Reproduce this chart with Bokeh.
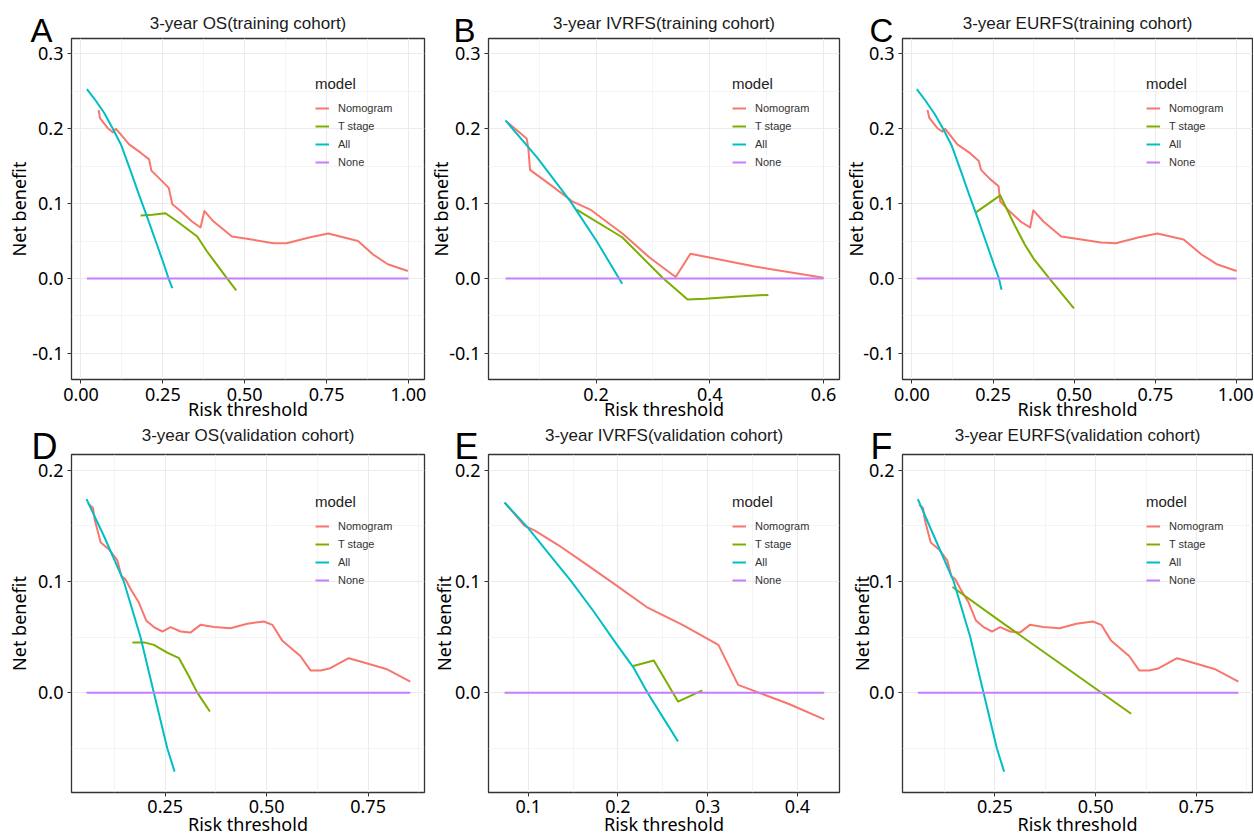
from bokeh.plotting import figure
from bokeh.models import (FixedTicker, Legend, LegendItem, Title, Range1d,
                          NumeralTickFormatter)
from bokeh.layouts import gridplot
from bokeh.embed import file_html
from bokeh.resources import INLINE

MODELS = ["Nomogram", "T stage", "All", "None"]
COLORS = ["#F8766D", "#7CAE00", "#00BFC4", "#C77CFF"]

# ---------------- Panel A: 3-year OS (training) ----------------
A_nom_x = [0.054, 0.058, 0.081, 0.098, 0.106, 0.124, 0.147, 0.182, 0.208, 0.215, 0.243, 0.268, 0.279,
           0.304, 0.339, 0.365, 0.377, 0.405, 0.461, 0.507, 0.588, 0.628, 0.700, 0.755, 0.846, 0.892,
           0.937, 0.998]
A_nom_y = [0.225, 0.214, 0.201, 0.195, 0.200, 0.191, 0.179, 0.168, 0.159, 0.144, 0.132, 0.121, 0.099,
           0.090, 0.076, 0.068, 0.090, 0.076, 0.056, 0.053, 0.047, 0.047, 0.055, 0.060, 0.050, 0.032,
           0.019, 0.010]
A_tst_x = [0.182, 0.218, 0.258, 0.294, 0.355, 0.385, 0.446, 0.474]
A_tst_y = [0.084, 0.085, 0.087, 0.076, 0.056, 0.036, 0.000, -0.016]
A_all_x = [0.018, 0.041, 0.071, 0.096, 0.122, 0.152, 0.177, 0.203, 0.228, 0.253, 0.268, 0.279]
A_all_y = [0.253, 0.240, 0.221, 0.201, 0.179, 0.143, 0.112, 0.081, 0.050, 0.019, -0.001, -0.013]
A_none_x = [0.018, 1.0]
A_none_y = [0.0, 0.0]

# ---------------- Panel B: 3-year IVRFS (training) ----------------
B_nom_x = [0.042, 0.078, 0.081, 0.084, 0.120, 0.158, 0.190, 0.248, 0.294, 0.340, 0.366, 0.479, 0.600]
B_nom_y = [0.210, 0.187, 0.174, 0.145, 0.125, 0.103, 0.092, 0.059, 0.028, 0.002, 0.033, 0.016, 0.001]
B_tst_x = [0.166, 0.246, 0.317, 0.361, 0.392, 0.450, 0.503]
B_tst_y = [0.092, 0.055, 0.001, -0.028, -0.027, -0.024, -0.022]
B_all_x = [0.041, 0.097, 0.155, 0.201, 0.246]
B_all_y = [0.211, 0.161, 0.103, 0.050, -0.007]
B_none_x = [0.041, 0.600]
B_none_y = [0.0, 0.0]

# ---------------- Panel C: 3-year EURFS (training) ----------------
C_nom_x = [0.048, 0.054, 0.078, 0.094, 0.102, 0.120, 0.140, 0.180, 0.206, 0.213, 0.240, 0.267, 0.272,
           0.300, 0.335, 0.364, 0.374, 0.405, 0.460, 0.507, 0.582, 0.628, 0.700, 0.756, 0.837, 0.892,
           0.939, 1.000]
C_nom_y = [0.225, 0.214, 0.201, 0.196, 0.200, 0.190, 0.179, 0.167, 0.157, 0.145, 0.133, 0.123, 0.103,
           0.090, 0.076, 0.068, 0.091, 0.076, 0.056, 0.053, 0.048, 0.047, 0.055, 0.060, 0.052, 0.032,
           0.019, 0.010]
C_tst_x = [0.196, 0.272, 0.313, 0.348, 0.377, 0.425, 0.499]
C_tst_y = [0.088, 0.111, 0.074, 0.045, 0.025, -0.001, -0.040]
C_all_x = [0.015, 0.041, 0.071, 0.096, 0.122, 0.152, 0.177, 0.203, 0.228, 0.253, 0.268, 0.276]
C_all_y = [0.253, 0.238, 0.219, 0.200, 0.178, 0.142, 0.111, 0.080, 0.049, 0.018, 0.000, -0.015]
C_none_x = [0.015, 1.0]
C_none_y = [0.0, 0.0]

# ---------------- Panel D: 3-year OS (validation) ----------------
D_nom_x = [0.060, 0.072, 0.076, 0.091, 0.111, 0.132, 0.142, 0.152, 0.165, 0.185, 0.203, 0.222, 0.243,
           0.263, 0.288, 0.312, 0.337, 0.370, 0.411, 0.452, 0.493, 0.514, 0.538, 0.583, 0.608, 0.633,
           0.657, 0.702, 0.731, 0.797, 0.854]
D_nom_y = [0.170, 0.166, 0.156, 0.135, 0.129, 0.119, 0.105, 0.102, 0.093, 0.081, 0.065, 0.059, 0.055,
           0.059, 0.055, 0.054, 0.061, 0.059, 0.058, 0.062, 0.064, 0.061, 0.047, 0.033, 0.020, 0.020,
           0.022, 0.031, 0.028, 0.021, 0.010]
D_tst_x = [0.169, 0.200, 0.222, 0.255, 0.284, 0.308, 0.329, 0.360]
D_tst_y = [0.045, 0.045, 0.043, 0.036, 0.031, 0.015, 0.000, -0.017]
D_all_x = [0.056, 0.100, 0.148, 0.189, 0.222, 0.255, 0.273]
D_all_y = [0.174, 0.140, 0.100, 0.050, 0.000, -0.050, -0.071]
D_none_x = [0.056, 0.854]
D_none_y = [0.0, 0.0]

# ---------------- Panel E: 3-year IVRFS (validation) ----------------
E_nom_x = [0.0736, 0.096, 0.107, 0.133, 0.162, 0.199, 0.232, 0.272, 0.312, 0.334, 0.357, 0.390, 0.430]
E_nom_y = [0.171, 0.150, 0.146, 0.133, 0.117, 0.096, 0.077, 0.061, 0.043, 0.007, 0.000, -0.010, -0.024]
E_tst_x = [0.217, 0.240, 0.267, 0.294]
E_tst_y = [0.024, 0.029, -0.008, 0.002]
E_all_x = [0.0736, 0.100, 0.124, 0.148, 0.173, 0.199, 0.217, 0.233, 0.250, 0.267]
E_all_y = [0.171, 0.148, 0.124, 0.100, 0.073, 0.043, 0.023, 0.000, -0.022, -0.044]
E_none_x = [0.0736, 0.430]
E_none_y = [0.0, 0.0]

# ---------------- Panel F: 3-year EURFS (validation) ----------------
F_nom_x = [0.062, 0.072, 0.076, 0.091, 0.111, 0.132, 0.142, 0.152, 0.165, 0.185, 0.203, 0.222, 0.243,
           0.263, 0.288, 0.312, 0.337, 0.370, 0.411, 0.452, 0.493, 0.514, 0.538, 0.583, 0.608, 0.633,
           0.657, 0.702, 0.731, 0.797, 0.854]
F_nom_y = [0.169, 0.166, 0.156, 0.135, 0.129, 0.119, 0.105, 0.102, 0.093, 0.081, 0.065, 0.059, 0.055,
           0.059, 0.055, 0.054, 0.061, 0.059, 0.058, 0.062, 0.064, 0.061, 0.047, 0.033, 0.020, 0.020,
           0.022, 0.031, 0.028, 0.021, 0.010]
F_tst_x = [0.145, 0.276, 0.440, 0.588]
F_tst_y = [0.095, 0.061, 0.019, -0.019]
F_all_x = [0.059, 0.100, 0.148, 0.189, 0.222, 0.255, 0.273]
F_all_y = [0.174, 0.140, 0.100, 0.050, 0.000, -0.050, -0.071]
F_none_x = [0.059, 0.854]
F_none_y = [0.0, 0.0]

TITLES = ["3-year OS(training cohort)", "3-year IVRFS(training cohort)", "3-year EURFS(training cohort)",
          "3-year OS(validation cohort)", "3-year IVRFS(validation cohort)", "3-year EURFS(validation cohort)"]
LETTERS = ["A", "B", "C", "D", "E", "F"]

TOP_Y_TICKS = [-0.1, 0.0, 0.1, 0.2, 0.3]
TOP_Y_MINOR = [-0.05, 0.05, 0.15, 0.25]
BOT_Y_TICKS = [0.0, 0.1, 0.2]
BOT_Y_MINOR = [-0.05, 0.05, 0.15]
X_TICKS_1 = [0.0, 0.25, 0.5, 0.75, 1.0]
X_MINOR_1 = [0.125, 0.375, 0.625, 0.875]
X_TICKS_B = [0.2, 0.4, 0.6]
X_MINOR_B = [0.1, 0.3, 0.5]
X_TICKS_E = [0.1, 0.2, 0.3, 0.4]
X_MINOR_E = [0.15, 0.25, 0.35]

TICK_FONT = "Noto Sans"
TITLE_FONT = "Liberation Sans"


def make_panel(idx, series, xr, yr, xt, xm, xfmt, yt, ym, bl, bt, bb, fw, fh, br,
               ylab_standoff, xlab_standoff, xaxlab_standoff, letter_dx, letter_size,
               letter_standoff, title_standoff, legend_top):
    p = figure(width=bl + fw + br, height=bt + fh + bb, output_backend="svg",
               toolbar_location=None, x_range=Range1d(*xr), y_range=Range1d(*yr),
               title_location=None,
               min_border_left=bl, min_border_right=br, min_border_top=bt, min_border_bottom=bb)
    p.background_fill_color = "white"
    p.border_fill_color = "white"
    p.outline_line_color = "#333333"
    p.outline_line_width = 1.3

    # panel letter (closest to the frame) and the panel title above it
    letter = Title(text=LETTERS[idx], align="left", offset=letter_dx, vertical_align="top",
                   standoff=letter_standoff, text_font=TITLE_FONT, text_font_size=letter_size,
                   text_font_style="normal", text_color="black")
    p.add_layout(letter, "above")
    main = Title(text=TITLES[idx], align="center", vertical_align="bottom", standoff=title_standoff,
                 text_font=TITLE_FONT, text_font_size="17px", text_font_style="normal",
                 text_color="#1a1a1a")
    p.add_layout(main, "above")

    p.xaxis.ticker = FixedTicker(ticks=xt, minor_ticks=xm)
    p.yaxis.ticker = FixedTicker(ticks=yt, minor_ticks=ym)
    p.xaxis.formatter = NumeralTickFormatter(format=xfmt)
    p.yaxis.formatter = NumeralTickFormatter(format="0.0")
    for ax in (p.xaxis, p.yaxis):
        ax.axis_line_color = None
        ax.major_tick_line_color = "#333333"
        ax.major_tick_out = 4
        ax.major_tick_in = 0
        ax.minor_tick_line_color = None
        ax.major_label_text_font = TICK_FONT
        ax.major_label_text_font_size = "18px"
        ax.major_label_text_color = "black"
        ax.axis_label_text_font = TICK_FONT
        ax.axis_label_text_font_size = "18px"
        ax.axis_label_text_font_style = "normal"
        ax.axis_label_text_color = "black"
    p.xaxis.axis_label = "Risk threshold"
    p.yaxis.axis_label = "Net benefit"
    p.xaxis.major_label_standoff = xlab_standoff
    p.xaxis.axis_label_standoff = xaxlab_standoff
    p.yaxis.major_label_standoff = 4
    p.yaxis.axis_label_standoff = ylab_standoff

    for g in (p.xgrid, p.ygrid):
        g.grid_line_color = "#EBEBEB"
        g.grid_line_width = 1.1
        g.minor_grid_line_color = "#EFEFEF"
        g.minor_grid_line_width = 0.7

    items = []
    for name, color, (xs, ys) in zip(MODELS, COLORS, series):
        r = p.line(xs, ys, line_color=color, line_width=2, line_join="round")
        items.append(LegendItem(label=name, renderers=[r]))

    leg_h = 2 * 2 + 17 + 6 + 4 * 18
    vx = 244
    vy = fh - legend_top - leg_h
    legend = Legend(items=items, location=(vx, vy), title="model")
    legend.title_text_font = TITLE_FONT
    legend.title_text_font_size = "15px"
    legend.title_text_font_style = "normal"
    legend.title_text_color = "#222222"
    legend.title_standoff = 7
    legend.label_text_font = TITLE_FONT
    legend.label_text_font_size = "11px"
    legend.label_text_color = "#333333"
    legend.label_height = 18
    legend.glyph_height = 18
    legend.glyph_width = 14
    legend.label_standoff = 9
    legend.spacing = 0
    legend.padding = 2
    legend.margin = 0
    legend.background_fill_alpha = 0
    legend.border_line_color = None
    p.add_layout(legend)
    return p


TOP_YR = (-0.135, 0.3205)
BOT_YR = (-0.0898, 0.2142)
FH_T, FH_B = 341, 338
BT_T, BT_B = 38, 31
BB_T, BB_B = 44, 46

# top row: letter 33px, bottom row: letter 36px
TOP_ARGS = dict(bt=BT_T, bb=BB_T, fh=FH_T, xlab_standoff=4, xaxlab_standoff=-7,
                letter_size="33px", letter_standoff=-24, title_standoff=-18, legend_top=34)
BOT_ARGS = dict(bt=BT_B, bb=BB_B, fh=FH_B, xlab_standoff=3, xaxlab_standoff=-4,
                letter_size="36px", letter_standoff=-28, title_standoff=-10, legend_top=36)

pA = make_panel(0, [(A_nom_x, A_nom_y), (A_tst_x, A_tst_y), (A_all_x, A_all_y), (A_none_x, A_none_y)],
                (-0.029, 1.049), TOP_YR, X_TICKS_1, X_MINOR_1, "0.00", TOP_Y_TICKS, TOP_Y_MINOR,
                bl=71, fw=353, br=2, ylab_standoff=-2, letter_dx=-41, **TOP_ARGS)
pB = make_panel(1, [(B_nom_x, B_nom_y), (B_tst_x, B_tst_y), (B_all_x, B_all_y), (B_none_x, B_none_y)],
                (0.011, 0.628), TOP_YR, X_TICKS_B, X_MINOR_B, "0.0", TOP_Y_TICKS, TOP_Y_MINOR,
                bl=58, fw=355, br=2, ylab_standoff=-7, letter_dx=-35, **TOP_ARGS)
pC = make_panel(2, [(C_nom_x, C_nom_y), (C_tst_x, C_tst_y), (C_all_x, C_all_y), (C_none_x, C_none_y)],
                (-0.029, 1.049), TOP_YR, X_TICKS_1, X_MINOR_1, "0.00", TOP_Y_TICKS, TOP_Y_MINOR,
                bl=58, fw=353, br=1, ylab_standoff=-8, letter_dx=-33, **TOP_ARGS)
pD = make_panel(3, [(D_nom_x, D_nom_y), (D_tst_x, D_tst_y), (D_all_x, D_all_y), (D_none_x, D_none_y)],
                (0.019, 0.889), BOT_YR, X_TICKS_1, X_MINOR_1, "0.00", BOT_Y_TICKS, BOT_Y_MINOR,
                bl=71, fw=353, br=2, ylab_standoff=4, letter_dx=-40, **BOT_ARGS)
pE = make_panel(4, [(E_nom_x, E_nom_y), (E_tst_x, E_tst_y), (E_all_x, E_all_y), (E_none_x, E_none_y)],
                (0.0557, 0.447), BOT_YR, X_TICKS_E, X_MINOR_E, "0.0", BOT_Y_TICKS, BOT_Y_MINOR,
                bl=57, fw=356, br=2, ylab_standoff=-4, letter_dx=-34, **BOT_ARGS)
pF = make_panel(5, [(F_nom_x, F_nom_y), (F_tst_x, F_tst_y), (F_all_x, F_all_y), (F_none_x, F_none_y)],
                (0.021, 0.889), BOT_YR, X_TICKS_1, X_MINOR_1, "0.00", BOT_Y_TICKS, BOT_Y_MINOR,
                bl=58, fw=353, br=1, ylab_standoff=-8, letter_dx=-32, **BOT_ARGS)

grid = gridplot([[pA, pB, pC], [pD, pE, pF]], toolbar_location=None)

open("out.html", "w").write(file_html(grid, INLINE))
